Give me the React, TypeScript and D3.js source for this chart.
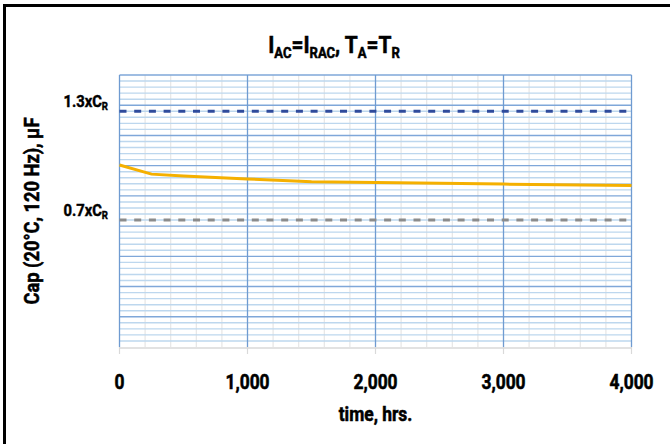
import React from 'react';
import * as d3 from 'd3';

// time, hrs
const hours = [0, 250, 500, 1000, 1500, 2000, 3000, 4000];
// Cap (20°C, 120 Hz), µF
const capValues = [60.2, 57.2, 56.6, 55.6, 54.7, 54.4, 53.9, 53.4];
const ratedCap = 60;
const limitFactors = [1.3, 0.7];
const limitLabels = ['1.3xC', '0.7xC'];
const xTicks = [0, 1000, 2000, 3000, 4000];

const W = 670;
const H = 444;
const FONT = "Roboto, 'Liberation Sans', sans-serif";
const SQUEEZE = 0.87; // condensed look

const App: React.FC = () => {
  const margin = { left: 119.5, right: 38.5, top: 75, bottom: 97 };
  const x = d3.scaleLinear().domain([0, 4000]).range([margin.left, W - margin.right]);
  const y = d3.scaleLinear().domain([0, 90]).range([H - margin.bottom, margin.top]);

  const minorX = d3.range(0, 4001, 200);
  const minorY = d3.range(0, 91, 2);
  const majorY = d3.range(0, 91, 10);

  const line = d3.line<number>()
    .x((_, i) => x(hours[i]))
    .y((d) => y(d));

  const [x0, x1] = x.range();
  const [yb, yt] = y.range();
  const sq = (tx: number, ty: number, rot = 0) =>
    `translate(${tx},${ty})${rot ? ` rotate(${rot})` : ''} scale(${SQUEEZE},1)`;
  const heavy = { fontWeight: 'bold' as const, fill: '#000', stroke: '#000', strokeWidth: 0.55 };

  return (
    <svg width={W} height={H} style={{ position: 'absolute', left: 0, top: 0, background: '#fff' }} fontFamily={FONT}>
      {/* outer frame */}
      <rect x={4.5} y={5.5} width={W + 10} height={H + 10} fill="#fff" stroke="#000" strokeWidth={3} />

      {/* title */}
      <text transform={sq(334, 53)} textAnchor="middle" fontSize={24} {...heavy}>
        I<tspan fontSize={15} dy={5}>AC</tspan>
        <tspan dy={-5}>=I</tspan><tspan fontSize={15} dy={5}>RAC</tspan>
        <tspan dy={-5}>, T</tspan><tspan fontSize={15} dy={5}>A</tspan>
        <tspan dy={-5}>=T</tspan><tspan fontSize={15} dy={5}>R</tspan>
      </text>

      {/* minor vertical grid */}
      {minorX.filter((d) => d % 1000 !== 0).map((d) => (
        <line key={'mx' + d} x1={x(d)} x2={x(d)} y1={yt} y2={yb} stroke="#e6e6e6" strokeWidth={1.2} />
      ))}
      {/* minor horizontal grid */}
      {minorY.filter((d) => d % 10 !== 0).map((d) => (
        <line key={'my' + d} x1={x0} x2={x1} y1={y(d)} y2={y(d)} stroke="#bdd7ee" strokeWidth={1.4} />
      ))}
      {/* major horizontal grid */}
      {majorY.filter((d) => d !== 0).map((d) => (
        <line key={'My' + d} x1={x0} x2={x1} y1={y(d)} y2={y(d)} stroke="#7fa7d9" strokeWidth={1.4} />
      ))}
      {/* major vertical grid */}
      {xTicks.map((d) => (
        <line key={'Mx' + d} x1={x(d)} x2={x(d)} y1={yt} y2={yb} stroke="#6f9bd1" strokeWidth={1.3} />
      ))}

      {/* x axis line and ticks */}
      <line x1={x0} x2={x1} y1={yb + 1} y2={yb + 1} stroke="#d9d9d9" strokeWidth={1.5} />
      {xTicks.map((d) => (
        <line key={'t' + d} x1={x(d)} x2={x(d)} y1={yb} y2={yb + 7} stroke="#d9d9d9" strokeWidth={1.2} />
      ))}

      {/* limit lines */}
      {limitFactors.map((f, i) => (
        <g key={'lim' + i}>
          <line x1={x0} x2={x1} y1={y(f * ratedCap)} y2={y(f * ratedCap)}
            stroke={i === 0 ? '#2f4b9c' : '#8c8c8c'} strokeWidth={3} strokeDasharray="7 7.7" />
          <text transform={sq(108, y(f * ratedCap) - 4.5)} textAnchor="end" fontSize={17} {...heavy} strokeWidth={0.45}>
            {limitLabels[i]}<tspan fontSize={11} dy={3}>R</tspan>
          </text>
        </g>
      ))}

      {/* data */}
      <path d={line(capValues) || ''} fill="none" stroke="#f5b000" strokeWidth={3} />

      {/* x tick labels */}
      {xTicks.map((d) => (
        <text key={'xl' + d} transform={sq(x(d), 389)} textAnchor="middle" fontSize={20} {...heavy}>
          {d3.format(',')(d)}
        </text>
      ))}
      <text transform={sq(375.5, 421)} textAnchor="middle" fontSize={20} {...heavy}>time, hrs.</text>

      {/* y axis title */}
      <text transform={sq(39, (yt + yb) / 2, -90)} textAnchor="middle" fontSize={21} {...heavy}>
        Cap (20°C, 120 Hz), µF
      </text>
    </svg>
  );
};

export default App;
